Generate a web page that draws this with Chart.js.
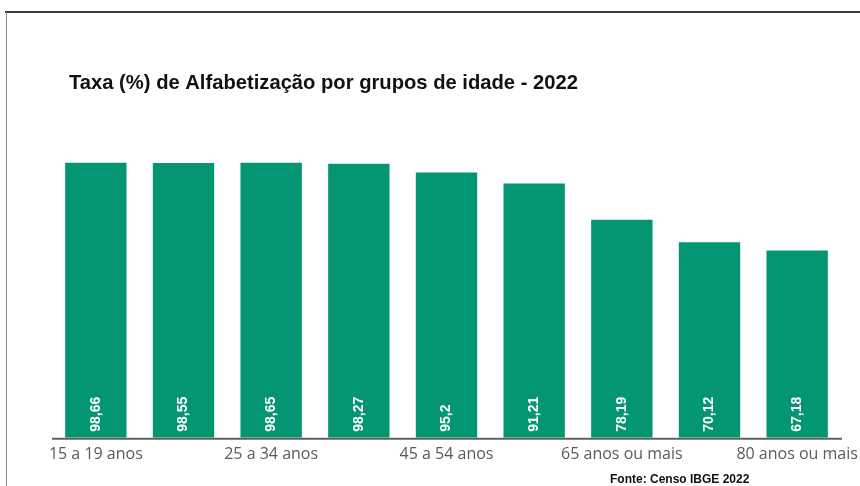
<!DOCTYPE html>
<html>
<head>
<meta charset="utf-8">
<script src="https://cdn.jsdelivr.net/npm/chart.js@4"></script>
<style>
  html, body { margin: 0; padding: 0; background: #fff; }
  #wrap { width: 860px; height: 486px; position: relative; }
</style>
</head>
<body>
<div id="wrap"><canvas id="alfabChart"></canvas></div>
<script>
// age groups (odd ones are hidden by autoskip, like in the original)
const faixas = [
  '15 a 19 anos', '20 a 24 anos', '25 a 34 anos', '35 a 44 anos', '45 a 54 anos',
  '55 a 64 anos', '65 anos ou mais', '70 anos ou mais', '80 anos ou mais'
];
const taxas = [98.66, 98.55, 98.65, 98.27, 95.2, 91.21, 78.19, 70.12, 67.18];

const titulo = 'Taxa (%) de Alfabetização por grupos de idade - 2022';
const fonte = 'Fonte: Censo IBGE 2022';

const verde = '#049673';

// title, source, frame lines and the baseline under the bars
const decoracao = {
  id: 'decoracao',
  beforeDraw(chart) {
    const ctx = chart.ctx;
    ctx.save();
    ctx.fillStyle = '#fff';
    ctx.fillRect(0, 0, chart.width, chart.height);
    ctx.strokeStyle = '#3a3a3a';
    ctx.lineWidth = 2;
    ctx.beginPath();
    ctx.moveTo(5, 12);
    ctx.lineTo(chart.width, 12);
    ctx.stroke();
    ctx.strokeStyle = '#8a8a8a';
    ctx.lineWidth = 1;
    ctx.beginPath();
    ctx.moveTo(6.5, 12);
    ctx.lineTo(6.5, chart.height);
    ctx.stroke();
    ctx.restore();
  },
  afterDraw(chart) {
    const ctx = chart.ctx;
    const area = chart.chartArea;
    ctx.save();
    ctx.strokeStyle = '#606060';
    ctx.lineWidth = 2;
    ctx.beginPath();
    ctx.moveTo(area.left, area.bottom + 1);
    ctx.lineTo(area.right + 1, area.bottom + 1);
    ctx.stroke();

    ctx.fillStyle = '#111';
    ctx.textBaseline = 'alphabetic';
    ctx.textAlign = 'left';
    ctx.font = 'bold 20.2px "Liberation Sans", Arial, sans-serif';
    ctx.fillText(titulo, 69, 89);
    ctx.font = 'bold 12px "Liberation Sans", Arial, sans-serif';
    ctx.fillText(fonte, 610, 483);
    ctx.restore();
  }
};

// vertical white value labels at the bottom of each bar
const rotulos = {
  id: 'rotulos',
  afterDatasetsDraw(chart) {
    const ctx = chart.ctx;
    const meta = chart.getDatasetMeta(0);
    const base = chart.scales.y.getPixelForValue(0);
    ctx.save();
    ctx.fillStyle = '#fff';
    ctx.font = 'bold 14px "Liberation Sans", Arial, sans-serif';
    ctx.textAlign = 'left';
    ctx.textBaseline = 'middle';
    meta.data.forEach((bar, i) => {
      const txt = String(taxas[i]).replace('.', ',');
      ctx.save();
      ctx.translate(bar.x, base - 6);
      ctx.rotate(-Math.PI / 2);
      ctx.fillText(txt, 0, 0);
      ctx.restore();
    });
    ctx.restore();
  }
};

new Chart(document.getElementById('alfabChart'), {
  type: 'bar',
  data: {
    labels: faixas,
    datasets: [{
      data: taxas,
      backgroundColor: verde,
      borderWidth: 0,
      categoryPercentage: 1,
      barPercentage: 0.7
    }]
  },
  options: {
    responsive: true,
    maintainAspectRatio: false,
    animation: false,
    layout: { padding: { left: 52, right: 19, top: 159, bottom: 15 } },
    plugins: {
      legend: { display: false },
      tooltip: { enabled: false }
    },
    scales: {
      y: { display: false, min: 0, max: 100 },
      x: {
        grid: { display: false, drawTicks: false },
        border: { display: false },
        ticks: {
          color: '#5a5a5a',
          font: { family: '"Open Sans", sans-serif', size: 16 },
          padding: 7,
          maxRotation: 0,
          autoSkip: true
        },
        afterFit(scale) {
          // let the layout padding alone decide the plot width
          scale.paddingLeft = 0;
          scale.paddingRight = 0;
        }
      }
    }
  },
  plugins: [decoracao, rotulos]
});
</script>
</body>
</html>
